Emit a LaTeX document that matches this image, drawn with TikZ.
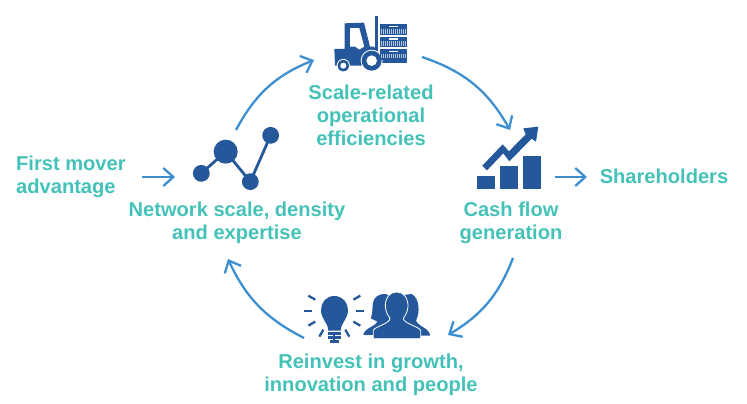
\documentclass[tikz,border=0pt]{standalone}
\usepackage{fontspec}
\setmainfont{Liberation Sans}
\usepackage{tikz}
\usetikzlibrary{arrows.meta,positioning}
\definecolor{iconblue}{HTML}{25589B}
\definecolor{arcblue}{HTML}{3E8FD0}
\definecolor{labelteal}{HTML}{45C2B8}
\tikzset{label text/.style={align=center,text=labelteal,inner sep=0pt,font=\fontsize{20.1}{23}\selectfont\bfseries}}
\tikzset{cycle arc/.style={-{Straight Barb[length=10pt,width=18pt]},draw=arcblue,line width=2.3pt}}
\tikzset{icon part/.style={fill=iconblue,draw=none}}
\begin{document}
\begin{tikzpicture}[x=1pt,y=-1pt]
\useasboundingbox (0,0) rectangle (747,404);
% labels
\node (scale) [label text] at (371,115) {Scale-related\\operational\\efficiencies};
\node (network) [label text] at (237,223) {Network scale, density\\and expertise};
\node (cash) [label text] at (511,223) {Cash flow\\generation};
\node (reinvest) [label text] at (371,375) {Reinvest in growth,\\innovation and people};
\node (first) [label text,align=left,anchor=west] at (16,177) {First mover\\advantage};
\node (holders) [label text] at (664,176) {Shareholders};
% ends of the arrows
\coordinate (netout) at (236,130);
\coordinate (forkin) at (314,60);
\coordinate (forkout) at (422,57);
\coordinate (chartin) at (510,130);
\coordinate (cashout) at (513,258);
\coordinate (bulbin) at (448,335);
\coordinate (bulbout) at (304,338);
\coordinate (netin) at (228,259);
\coordinate (firstout) at (142,177);
\coordinate (firstin) at (175,177);
\coordinate (chartout) at (555,177);
\coordinate (holdin) at (587,177);
%
\path[bend left=20](netout) edge[cycle arc] (forkin);
\path[bend left=21](forkout) edge[cycle arc] (chartin);
\path[bend left=19](cashout) edge[cycle arc] (bulbin);
\path[bend left=19](bulbout) edge[cycle arc] (netin);
\path (firstout) edge[cycle arc] (firstin);
\path (chartout) edge[cycle arc] (holdin);
% forklift
\begin{scope}[shift={(300,0)},x=0.3333pt,y=-0.3333pt]
\fill[icon part,even odd rule] (134,70) -- (192,68) -- (210,140) -- (222,140) -- (235,160) -- (235,180) -- (200,197) -- (150,197) -- (105,197) -- (103,147) -- (134,147) -- cycle
 (150,84) -- (178,84) -- (193,140) -- (178,149) -- (165,140) -- (150,140) -- cycle;
\fill[icon part] (225,48) rectangle (235,180);
\fill[icon part] (235,178) rectangle (321,190);
\fill[white] (215,182) circle (11pt);
\fill[icon part] (215,182) circle (10pt);
\fill[white] (215,182) circle (5.3pt);
\fill[white] (130,197) circle (6.7pt);
\fill[icon part] (130,197) circle (5.7pt);
\fill[white] (130,197) circle (3pt);
\foreach \ytop in {73,110,147} {
  \fill[icon part] (240,\ytop) rectangle (320,\ytop+32);
  \fill[white] (267,\ytop+5) rectangle (293,\ytop+9);
  \foreach \xbar in {244,250,...,316} {
    \fill[white!65!iconblue] (\xbar,\ytop+14) rectangle (\xbar+3,\ytop+28);
  }
}
\end{scope}
% network
\begin{scope}[shift={(130,110)},x=0.3333pt,y=-0.3333pt]
\draw[iconblue,line width=2.8pt] (214,190) -- (287,125) -- (361,215) -- (422,76);
\fill[icon part] (287,125) circle (12pt);
\fill[icon part] (214,190) circle (8.4pt);
\fill[icon part] (361,215) circle (8.4pt);
\fill[icon part] (422,76) circle (8.4pt);
\end{scope}
% chart
\begin{scope}[shift={(450,110)},x=0.3333pt,y=-0.3333pt]
\fill[icon part] (80,198) rectangle (136,238);
\fill[icon part] (149,169) rectangle (205,238);
\fill[icon part] (218,139) rectangle (274,238);
\fill[icon part] (97,167) -- (158,103) -- (177,124) -- (227,73) -- (220,55) -- (265,50) -- (258,95) -- (245,86) -- (178,154) -- (160,130) -- (111,181) -- cycle;
\end{scope}
% bulb and people
\begin{scope}[shift={(290,270)},x=0.3333pt,y=-0.3333pt]
\fill[icon part] (133,78) .. controls (108,78) and (93,98) .. (93,120) .. controls (93,148) and (113,155) .. (115,182) -- (152,182) .. controls (154,155) and (174,148) .. (174,120) .. controls (174,98) and (158,78) .. (133,78) -- cycle;
\fill[icon part] (113,187) rectangle (154,194);
\fill[icon part] (113,199) rectangle (154,206);
\fill[icon part] (120,211) rectangle (147,220);
\foreach \ang in {-30,0,30,60,90,120,150,180,210} {
  \draw[iconblue,line width=2.3pt] ([shift={({-\ang}:22pt)}]133,122) -- ([shift={({-\ang}:30pt)}]133,122);
}
% back figures
\fill[icon part] (220,195) .. controls (222,175) and (255,170) .. (262,155) -- (242,145) .. controls (250,130) and (245,110) .. (250,95) .. controls (255,72) and (290,65) .. (300,80) -- (310,190) -- (250,195) -- cycle;
\fill[icon part] (420,197) .. controls (420,175) and (385,170) .. (378,152) .. controls (390,130) and (390,85) .. (365,72) -- (340,75) -- (340,190) -- (390,197) -- cycle;
% front figure
\fill[icon part,draw=white,line width=0.8pt] (250,206) -- (250,180) .. controls (260,168) and (300,160) .. (300,145) .. controls (285,125) and (280,100) .. (295,78) .. controls (305,62) and (335,62) .. (345,78) .. controls (360,100) and (355,125) .. (340,145) .. controls (340,160) and (382,168) .. (392,180) -- (392,206) -- cycle;
\end{scope}
\end{tikzpicture}
\end{document}
